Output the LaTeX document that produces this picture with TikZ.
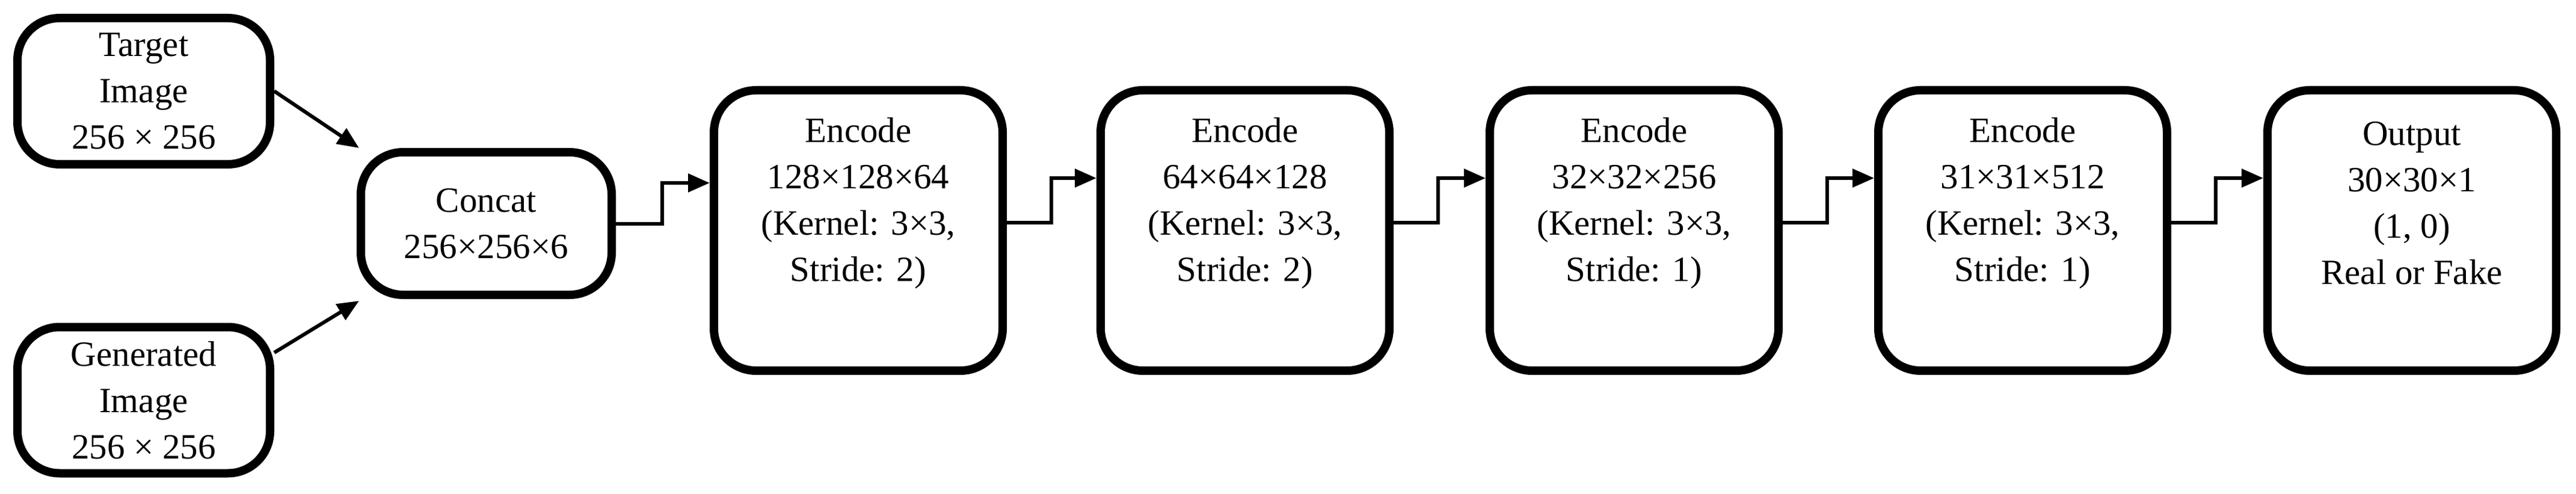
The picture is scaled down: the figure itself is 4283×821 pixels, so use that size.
\documentclass[tikz,border=0pt]{standalone}
\usepackage{fontspec}
\setmainfont{Liberation Serif}
\usetikzlibrary{arrows.meta,calc}
\begin{document}
\begin{tikzpicture}[x=1pt,y=1pt,
  box/.style={draw,line width=14pt,rounded corners=70pt,align=center,inner sep=0pt,
    font=\fontsize{59}{77}\selectfont},
  small/.style={box,minimum width=420pt,minimum height=243pt},
  big/.style={box,minimum width=480pt,minimum height=466pt},
  up/.style={align=center,inner sep=0pt,font=\fontsize{59}{77}\selectfont},
  conn/.style={line width=6pt,-{Triangle[length=36pt,width=30pt]}}]
\useasboundingbox (0,0) rectangle (4283,-821);
\node[small] (t) at (239,-151.5) {Target\\Image\\256 × 256};
\node[small] (g) at (239,-665) {Generated\\Image\\256 × 256};
\node[small,minimum width=417pt,minimum height=237pt] (c) at (808.5,-371.5) {Concat\\256×256×6};
\node[big,label={[up,yshift=45pt]center:Encode\\128×128×64\\(Kernel: 3×3,\\Stride: 2)}] (e1) at (1427,-383) {};
\node[big,label={[up,yshift=45pt]center:Encode\\64×64×128\\(Kernel: 3×3,\\Stride: 2)}] (e2) at (2070,-383) {};
\node[big,label={[up,yshift=45pt]center:Encode\\32×32×256\\(Kernel: 3×3,\\Stride: 1)}] (e3) at (2717,-383) {};
\node[big,label={[up,yshift=45pt]center:Encode\\31×31×512\\(Kernel: 3×3,\\Stride: 1)}] (e4) at (3363,-383) {};
\node[big,label={[up,yshift=45pt]center:Output\\30×30×1\\(1, 0)\\Real or Fake}] (o) at (4010,-383) {};
\draw[conn] (t.east) -- ([shift={(4pt,0pt)}]c.north west);
\draw[conn] ([yshift=79pt]g.east) -- ([shift={(4pt,-3pt)}]c.south west);
\draw[conn] (c.east) -- ++(77,0) |- ([yshift=79pt]e1.west);
\draw[conn] ([yshift=13pt]e1.east) -- ++(74,0) |- ([yshift=87pt]e2.west);
\draw[conn] ([yshift=13pt]e2.east) -- ++(74,0) |- ([yshift=87pt]e3.west);
\draw[conn] ([yshift=13pt]e3.east) -- ++(74,0) |- ([yshift=87pt]e4.west);
\draw[conn] ([yshift=13pt]e4.east) -- ++(74,0) |- ([yshift=87pt]o.west);
\end{tikzpicture}
\end{document}
